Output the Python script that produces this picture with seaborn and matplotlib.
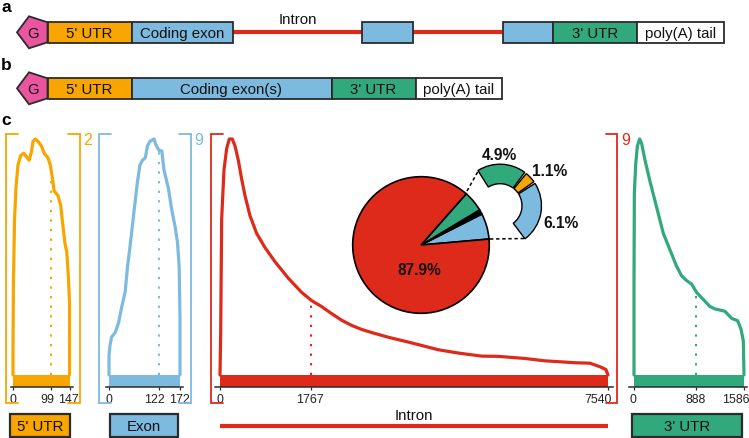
import numpy as np
import seaborn as sns
import matplotlib.pyplot as plt
from matplotlib.patches import Polygon, Rectangle
from matplotlib.transforms import ScaledTranslation

# colours
ORANGE = '#F9A500'
BLUE = '#7DBAE0'
RED = '#DD2A1A'
GREEN = '#31A97C'
PINK = '#E9559E'
DARK = '#2B2B2B'

# density curves, x in nt, y in % of the panel peak
utr5_x = [0, 0, 1, 4, 8, 13, 20, 28, 35, 42, 48, 52, 58, 65, 74, 81, 91, 97, 102, 107,
          117, 124, 130, 135, 140, 144, 147, 147, 147]
utr5_y = [0, 10, 38, 66, 80, 89, 93, 94, 92.5, 91, 94.6, 99, 100, 99, 97, 94, 92, 89, 84, 78,
          76, 72, 63, 56, 52, 42, 31, 17, 0]
exon_x = [0, 0, 2, 6, 15, 23, 31, 39, 45, 52, 61, 69, 75, 81, 88, 93, 99, 109, 115, 122,
          128, 133, 144, 152, 160, 166, 170, 172, 172]
exon_y = [0, 8, 12, 16, 18, 22, 29, 35, 46, 56, 70, 82, 89, 91, 92, 97, 99, 100, 97, 95,
          95, 87, 79, 70, 63, 56, 46, 24, 0]
intron_x = [0, 13, 32, 78, 130, 181, 240, 292, 356, 421, 486, 583, 712, 874, 1069, 1328, 1587, 1781,
            1975, 2170, 2365, 2559, 2753, 2947, 3271, 3725, 4243, 4632, 5085, 5409, 5927, 6316, 6898,
            7190, 7384, 7500, 7540]
intron_y = [0, 17, 66, 87, 96, 100, 100, 97, 91, 83, 76, 67.5, 60, 54, 48, 41, 35, 31.5,
            29, 26, 23.2, 21, 19.3, 18, 16, 13.6, 10.7, 9.3, 8, 7.9, 7, 6, 5.2,
            5, 3.5, 2.3, 0]
utr3_x = [0, 0, 5, 24, 48, 82, 111, 159, 231, 327, 423, 519, 615, 687, 759, 831, 903, 999, 1095,
          1168, 1312, 1408, 1494, 1542, 1576, 1586]
utr3_y = [0, 38, 77, 89, 97, 100, 98, 91, 82, 71, 60, 53, 46, 42, 40, 38.5, 35, 32, 29,
          28, 27, 24, 23, 19.5, 14.5, 0]

medians = [99, 122, 1767, 888]
median_tops = [83, 95, 31.5, 34]
lengths = [147, 172, 7540, 1586]

pie_shares = [6.1, 1.1, 4.9, 87.9]
pie_colors = [BLUE, 'black', GREEN, RED]

sns.set_style('white')
plt.rcParams['font.family'] = ['Liberation Sans', 'DejaVu Sans']

W, H = 749, 439
fig = plt.figure(figsize=(W / 100, H / 100), dpi=100)

# overlay in pixel coordinates for the gene diagrams and brackets
bg = fig.add_axes([0, 0, 1, 1])
bg.set_xlim(0, W)
bg.set_ylim(H, 0)
bg.axis('off')


def box(x0, x1, y0, y1, color, label=None, lw=1.3):
    bg.add_patch(Rectangle((x0, y0), x1 - x0, y1 - y0, fc=color, ec=DARK, lw=lw, zorder=3))
    if label:
        bg.text((x0 + x1) / 2, (y0 + y1) / 2 + 0.3, label, ha='center', va='center', fontsize=10.8, color='#111', zorder=4)


def cap(y):
    pts = [(17, y), (29, y - 16), (47.5, y - 10), (47.5, y + 10), (29, y + 16)]
    bg.add_patch(Polygon(pts, fc=PINK, ec=DARK, lw=1.3, zorder=2))
    bg.text(33.5, y + 0.3, 'G', ha='center', va='center', fontsize=10.8, color='#111')


# row a
cap(33.3)
bg.plot([233, 502], [33.3, 33.3], color=RED, lw=3.0, solid_capstyle='butt', zorder=1)
box(47.5, 131.5, 23, 43.5, ORANGE, "5' UTR")
box(131.5, 233, 23, 43.5, BLUE, 'Coding exon')
box(362, 413, 23, 43.5, BLUE)
box(502.5, 553, 23, 43.5, BLUE)
box(553, 637, 23, 43.5, GREEN, "3' UTR")
box(637, 724, 23, 43.5, 'white', 'poly(A) tail')
bg.text(298, 20, 'Intron', ha='center', va='center', fontsize=10.8, color='#111')

# row b
cap(89.3)
box(47.5, 131.5, 79, 99.5, ORANGE, "5' UTR")
box(131.5, 331.5, 79, 99.5, BLUE, 'Coding exon(s)')
box(331.5, 415.5, 79, 99.5, GREEN, "3' UTR")
box(415.5, 502, 79, 99.5, 'white', 'poly(A) tail')

for letter, y in zip('abc', [7, 65, 121]):
    bg.text(1, y, letter, ha='left', va='center', fontsize=12.5, fontweight='bold', color='black')


def bracket(x0, x1, color, side):
    xs = [x1, x0, x0, x1] if side == 'l' else [x0, x1, x1, x0]
    bg.plot(xs, [134.5, 134.5, 404.5, 404.5], color=color, lw=1.3, solid_joinstyle='miter')


bracket(5.5, 17.5, ORANGE, 'l')
bracket(68, 80, ORANGE, 'r')
bracket(98.5, 110.5, BLUE, 'l')
bracket(179, 191, BLUE, 'r')
bracket(211, 223, RED, 'l')
bracket(605.5, 617, RED, 'r')
bg.text(87.5, 141, '2', color=ORANGE, fontsize=11.5, ha='center', va='center')
bg.text(198.5, 141, '9', color=BLUE, fontsize=11.5, ha='center', va='center')
bg.text(625.5, 141, '9', color=RED, fontsize=11.5, ha='center', va='center')

# labels under the panels
box(10, 70, 415, 438, ORANGE, "5' UTR", lw=1.6)
box(109.5, 178, 415, 438, BLUE, 'Exon', lw=1.6)
box(632, 741.5, 415, 438, GREEN, "3' UTR", lw=1.6)
bg.plot([220, 608], [426.7, 426.7], color=RED, lw=3.0, solid_capstyle='butt')
bg.text(414, 416.5, 'Intron', ha='center', va='center', fontsize=10.8, color='#111')

# pixel layout of the density panels: zero, end, axis extent, tick label shifts
panels = [
    (utr5_x, utr5_y, ORANGE, 13, 69.5, 10.5, 73, [0, -3.5, -1]),
    (exon_x, exon_y, BLUE, 109, 180, 106, 183, [0, -5, -1]),
    (intron_x, intron_y, RED, 220, 608, 215, 613, [0, -1, -10]),
    (utr3_x, utr3_y, GREEN, 634, 744, 629, 747, [-1, 0, -8]),
]
TOP_PX, ZERO_PX, PEAK_PX, BASE_PX = 134.5, 376, 140, 387.7
per_px = 100 / (ZERO_PX - PEAK_PX)

for (xs, ys, color, x0, x1, left, right, shifts), med, top, end in zip(panels, medians, median_tops, lengths):
    ax = fig.add_axes([left / W, 1 - BASE_PX / H, (right - left) / W, (BASE_PX - TOP_PX) / H])
    ax.patch.set_alpha(0)
    nt_per_px = end / (x1 - x0)
    ax.set_xlim((left - x0) * nt_per_px, (right - x0) * nt_per_px)
    ax.set_ylim((ZERO_PX - BASE_PX) * per_px, (ZERO_PX - TOP_PX) * per_px)
    sns.lineplot(x=xs, y=ys, sort=False, estimator=None, color=color, linewidth=2.3, ax=ax)
    ax.barh((ZERO_PX - BASE_PX) * per_px / 2, end, height=(BASE_PX - ZERO_PX) * per_px, left=0, color=color, lw=0)
    ax.plot([med, med], [0, top], color=color, lw=1.5, linestyle=(0, (1.1, 3.5)))
    sns.despine(ax=ax, left=True, right=True, top=True)
    ax.spines['bottom'].set_color(DARK)
    ax.spines['bottom'].set_linewidth(1.1)
    ax.set_yticks([])
    ax.set_xticks([0, med, end])
    ax.set_xticklabels(['0', str(med), str(end)], fontsize=8.9, color='#222')
    ax.tick_params(axis='x', bottom=True, length=2, width=0.9, color=DARK, pad=2.5)
    for lab, dx in zip(ax.get_xticklabels(), shifts):
        lab.set_transform(lab.get_transform() + ScaledTranslation(dx / 100, 0, fig.dpi_scale_trans))

# main pie
R = 68.3
cx, cy = 421, 246
pie = fig.add_axes([(cx - R * 1.03) / W, 1 - (cy + R * 1.03) / H, 2 * R * 1.03 / W, 2 * R * 1.03 / H])
pie.pie(pie_shares, colors=pie_colors, startangle=5, counterclock=True,
        wedgeprops={'edgecolor': 'black', 'linewidth': 1.2})
pie.set_xlim(-1.03, 1.03)
pie.set_ylim(-1.03, 1.03)
pie.text(-0.03, -0.36, '87.9%', ha='center', va='center', fontsize=11.2, fontweight='bold', color='#111')

# exploded ring of the non-intron shares, with small gaps between pieces
ring_shares = [6.1, 0.2, 1.1, 0.2, 4.9, 13.2]
ring_colors = [BLUE, 'none', ORANGE, 'none', GREEN, 'none']
rR = 41.5
rx, ry = 500, 206.7
ring = fig.add_axes([(rx - rR * 1.04) / W, 1 - (ry + rR * 1.04) / H, 2 * rR * 1.04 / W, 2 * rR * 1.04 / H])
wedges, _ = ring.pie(ring_shares, colors=ring_colors, startangle=-53, radius=1,
                     wedgeprops={'width': 0.47, 'edgecolor': 'black', 'linewidth': 1.0})
for w, c in zip(wedges, ring_colors):
    if c == 'none':
        w.set_edgecolor('none')
ring.set_xlim(-1.04, 1.04)
ring.set_ylim(-1.04, 1.04)

bg.plot([467, 478.5], [192, 171.5], color='black', lw=1.1, linestyle=(0, (2.2, 1.8)))
bg.plot([490, 524.5], [240, 239.5], color='black', lw=1.1, linestyle=(0, (2.2, 1.8)))
bg.text(499.5, 156, '4.9%', ha='center', va='center', fontsize=11.2, fontweight='bold', color='#111')
bg.text(550, 172, '1.1%', ha='center', va='center', fontsize=11.2, fontweight='bold', color='#111')
bg.text(561, 224, '6.1%', ha='center', va='center', fontsize=11.2, fontweight='bold', color='#111')
bg.set_zorder(5)
bg.patch.set_alpha(0)

fig.savefig('out.png', dpi=100)
